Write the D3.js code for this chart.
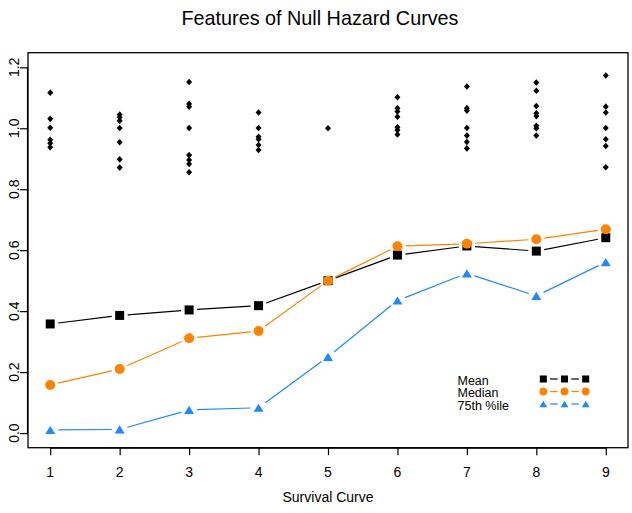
<!DOCTYPE html>
<html>
<head>
<meta charset="utf-8">
<script src="https://cdn.jsdelivr.net/npm/d3@7"></script>
<style>
  html, body { margin: 0; padding: 0; background: #fff; }
  svg { display: block; font-family: "Liberation Sans", Arial, Helvetica, sans-serif; }
</style>
</head>
<body>
<svg id="chart" width="632" height="513"></svg>
<script>
// ---- data ----
const categories = [1, 2, 3, 4, 5, 6, 7, 8, 9];
const meanVals   = [0.358, 0.386, 0.404, 0.418, 0.500, 0.584, 0.614, 0.597, 0.641];
const medianVals = [0.158, 0.210, 0.311, 0.335, 0.500, 0.613, 0.621, 0.636, 0.669];
const pct75Vals  = [0.010, 0.012, 0.076, 0.083, 0.250, 0.435, 0.524, 0.450, 0.561];
const hazardPoints = [
  [1.117, 1.031, 1.002, 0.962, 0.951, 0.938],
  [1.045, 1.036, 1.025, 1.001, 0.954, 0.898, 0.871],
  [1.152, 1.080, 1.071, 1.001, 0.912, 0.896, 0.883, 0.856],
  [1.052, 1.001, 0.972, 0.964, 0.945, 0.929],
  [1.000],
  [1.102, 1.066, 1.055, 1.038, 1.003, 0.994, 0.980],
  [1.137, 1.066, 1.058, 1.001, 0.976, 0.955, 0.934],
  [1.150, 1.123, 1.073, 1.049, 1.040, 1.008, 1.000, 0.976],
  [1.173, 1.071, 1.052, 1.001, 0.964, 0.942, 0.872]
];
const yTicks = [0.0, 0.2, 0.4, 0.6, 0.8, 1.0, 1.2];
const seriesNames = ["Mean", "Median", "75th %ile"];
const titleText = "Features of Null Hazard Curves";
const xLabel = "Survival Curve";

(function () {
// ---- layout ----
const svg = d3.select("#chart");
const pLeft = 28, pRight = 628, pTop = 52.7, pBottom = 447.7;
const x = d3.scaleLinear().domain([0.68, 9.32]).range([pLeft, pRight]);
const y = d3.scaleLinear().domain([-0.048, 1.248]).range([pBottom, pTop]);

const series = [
  { name: seriesNames[0], vals: meanVals,   color: "#000000", shape: "square" },
  { name: seriesNames[1], vals: medianVals, color: "#FF8200", shape: "circle" },
  { name: seriesNames[2], vals: pct75Vals,  color: "#1E88FF", shape: "triangle" }
];

function drawMarker(g, shape, cx, cy, color, s) {
  if (shape === "square") {
    g.append("rect").attr("x", cx - 4.5 * s).attr("y", cy - 4.5 * s)
      .attr("width", 9 * s).attr("height", 9 * s).attr("fill", color);
  } else if (shape === "circle") {
    g.append("circle").attr("cx", cx).attr("cy", cy).attr("r", 5 * s).attr("fill", color);
  } else {
    const w = 5 * s, h = 4.1 * s;
    g.append("path").attr("d", `M${cx},${cy - h}L${cx + w},${cy + h}L${cx - w},${cy + h}Z`)
      .attr("fill", color);
  }
}

function gappedSegments(g, pts, color, gap, width) {
  for (let i = 0; i < pts.length - 1; i++) {
    const [x1, y1] = pts[i], [x2, y2] = pts[i + 1];
    const dx = x2 - x1, dy = y2 - y1, L = Math.hypot(dx, dy);
    if (L <= 2 * gap) continue;
    const ux = dx / L, uy = dy / L;
    g.append("line")
      .attr("x1", x1 + ux * gap).attr("y1", y1 + uy * gap)
      .attr("x2", x2 - ux * gap).attr("y2", y2 - uy * gap)
      .attr("stroke", color).attr("stroke-width", width);
  }
}

// title
svg.append("text").attr("x", 320).attr("y", 25).attr("text-anchor", "middle")
  .attr("font-size", 19.8).attr("fill", "#000").text(titleText);

// diamonds
const dg = svg.append("g");
hazardPoints.forEach((arr, i) => {
  arr.forEach(v => {
    const cx = x(categories[i]), cy = y(v);
    dg.append("path").attr("d", `M${cx},${cy - 3.3}L${cx + 3},${cy}L${cx},${cy + 3.3}L${cx - 3},${cy}Z`)
      .attr("fill", "#000");
  });
});

// series lines with gaps + markers
series.forEach(s => {
  const g = svg.append("g");
  const pts = s.vals.map((v, i) => [x(categories[i]), y(v)]);
  gappedSegments(g, pts, s.color, 8, 1.2);
  pts.forEach(p => drawMarker(g, s.shape, p[0], p[1], s.color, 1));
});

// box
svg.append("rect").attr("x", pLeft).attr("y", pTop).attr("width", pRight - pLeft).attr("height", pBottom - pTop)
  .attr("fill", "none").attr("stroke", "#000").attr("stroke-width", 1.3);

// x axis
const xAxis = d3.axisBottom(x).tickValues(categories).tickSize(7.5).tickFormat(d3.format("d"));
const xg = svg.append("g").attr("transform", `translate(0,${pBottom})`).call(xAxis);
xg.select(".domain").attr("d", `M${x(1)},0.5H${x(9)}`).attr("stroke-width", 1.2);
xg.selectAll(".tick line").attr("stroke-width", 1.2);
xg.selectAll(".tick text").remove();
categories.forEach(c => {
  svg.append("text").attr("x", x(c)).attr("y", 477).attr("text-anchor", "middle")
    .attr("font-size", 14).attr("fill", "#000").text(c);
});

// y axis
const yAxis = d3.axisLeft(y).tickValues(yTicks).tickSize(8).tickFormat("");
const yg = svg.append("g").attr("transform", `translate(${pLeft},0)`).call(yAxis);
yg.select(".domain").attr("d", `M-0.5,${y(0)}V${y(1.2)}`).attr("stroke-width", 1.2);
yg.selectAll(".tick line").attr("stroke-width", 1.2);
yTicks.forEach(t => {
  svg.append("text").attr("transform", `translate(19,${y(t)}) rotate(-90)`)
    .attr("text-anchor", "middle").attr("font-size", 14).attr("fill", "#000")
    .text(d3.format(".1f")(t));
});

// x label
svg.append("text").attr("x", x(5)).attr("y", 502).attr("text-anchor", "middle")
  .attr("font-size", 14).attr("fill", "#000").text(xLabel);

// legend
const lg = svg.append("g");
const legY = [379, 391.5, 404];
const legTextY = [384.5, 397, 409.5];
const symX = [543.3, 564.5, 585.7];
series.forEach((s, i) => {
  lg.append("text").attr("x", 457.5).attr("y", legTextY[i]).attr("font-size", 12.5)
    .attr("fill", "#000").text(s.name);
  const pts = symX.map(sx => [sx, legY[i]]);
  gappedSegments(lg, pts, s.color, 6.8, 1.2);
  pts.forEach(p => drawMarker(lg, s.shape, p[0], p[1], s.color, 0.78));
});
})();
</script>
</body>
</html>
